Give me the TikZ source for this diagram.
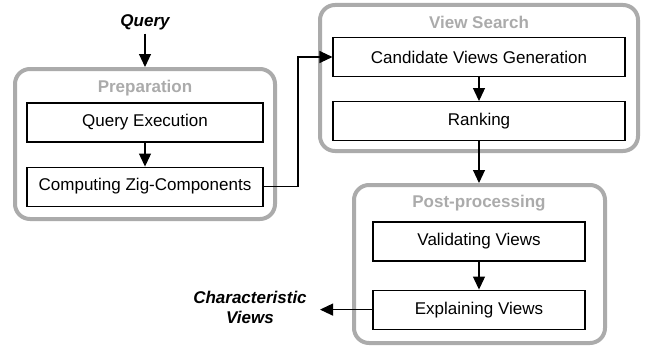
\documentclass[tikz,border=0pt]{standalone}
\usepackage{fontspec}
\setmainfont{Liberation Sans}
\usepackage{tikz}
\usetikzlibrary{positioning,arrows.meta}

\tikzset{
  stagebox/.style={draw=black!33, line width=4pt, rounded corners=15pt},
  stagename/.style={text=black!33, font=\fontsize{17}{19}\selectfont\bfseries},
  task/.style={draw, line width=1.1pt, minimum height=39pt, inner sep=0pt,
    font=\fontsize{17}{19}\selectfont},
  io/.style={font=\fontsize{17}{20}\selectfont\bfseries\itshape, align=center}
}

\begin{document}
\begin{tikzpicture}[->, >={Triangle[length=13pt,width=12pt]}, line width=1.1pt, x=1pt, y=-1pt, node distance=24pt]
		\useasboundingbox (0,0) rectangle (652,353);

		% stages
		\draw[stagebox, -] (15,69) rectangle (275,219);
		\draw[stagebox, -] (320,5) rectangle (638,151);
		\draw[stagebox, -] (354,185) rectangle (605,343);

		\node[stagename] (prep) at (145,88) {Preparation};
		\node[stagename] (vsearch) at (479,22) {View Search};
		\node[stagename] (post) at (479,203) {Post-processing};

		\node[task, minimum width=236pt] (qexec) at (145,122.5) {Query Execution};
		\node[task, minimum width=236pt] (zig) [below=of qexec] {Computing Zig-Components};
		\node[task, minimum width=292pt] (cand) at (479,57) {Candidate Views Generation};
		\node[task, minimum width=292pt] (rank) [below=of cand] {Ranking};
		\node[task, minimum width=212pt] (valid) at (479,241.5) {Validating Views};
		\node[task, minimum width=212pt] (expl) [below=28pt of valid] {Explaining Views};

		\node[io] (query) at (145,22) {Query};
		\node[io] (charv) at (250,307) {Characteristic\\Views};
		\coordinate (preptop) at (145,67);
		\coordinate (posttop) at (479,183);
		\coordinate (charend) at (320,0 |- expl);

		\path
		(query) edge (preptop)
		(qexec) edge (zig)
		(cand) edge (rank)
		(rank) edge (posttop)
		(valid) edge (expl)
		(expl) edge (charend);
		\draw (zig.east) -- (298,0 |- zig.east) |- (cand.west);
	\end{tikzpicture}
\end{document}
